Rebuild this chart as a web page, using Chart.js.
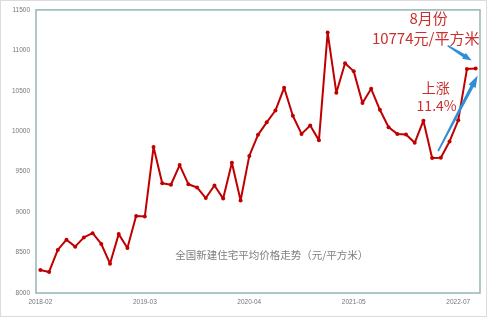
<!DOCTYPE html>
<html>
<head>
<meta charset="utf-8">
<script src="https://cdn.jsdelivr.net/npm/chart.js@4.4.0/dist/chart.umd.min.js"></script>
<style>
  html, body { margin: 0; padding: 0; background: #fff; }
</style>
</head>
<body>
<canvas id="myChart" width="500" height="319"></canvas>
<script>
// months along the x-axis (January is reported together with February)
var months = [
  "2018-02", "2018-03", "2018-04", "2018-05", "2018-06", "2018-07", "2018-08", "2018-09", "2018-10", "2018-11", "2018-12",
  "2019-02", "2019-03", "2019-04", "2019-05", "2019-06", "2019-07", "2019-08", "2019-09", "2019-10", "2019-11", "2019-12",
  "2020-02", "2020-03", "2020-04", "2020-05", "2020-06", "2020-07", "2020-08", "2020-09", "2020-10", "2020-11", "2020-12",
  "2021-02", "2021-03", "2021-04", "2021-05", "2021-06", "2021-07", "2021-08", "2021-09", "2021-10", "2021-11", "2021-12",
  "2022-03", "2022-04", "2022-05", "2022-06", "2022-07", "2022-08", "2022-09"
];
// average price of new homes, yuan per square metre
var price = [
  8285, 8260, 8533, 8659, 8573, 8687, 8740, 8606, 8362, 8728, 8557,
  8951, 8945, 9805, 9357, 9338, 9582, 9345, 9305, 9174, 9329, 9167,
  9610, 9143, 9695, 9955, 10110, 10256, 10537, 10191, 9967, 10070, 9887,
  11220, 10476, 10841, 10740, 10348, 10524, 10265, 10049, 9967, 9960, 9857,
  10130, 9668, 9671, 9874, 10135, 10768, 10774
];
var yMin = 8000, yMax = 11500, yStep = 500;
var labelEvery = 12;

var title = "全国新建住宅平均价格走势（元/平方米）";
var noteTop = ["8月份", "10774元/平方米"];
var noteRise = ["上涨", "11.4%"];

var lineRed = "#c00000";
var noteRed = "#c9302c";
var arrowBlue = "#2e8fd8";
var frameColor = "#94b5b5";

function arrow(ctx, x1, y1, x2, y2, w, hl, hw) {
  var a = Math.atan2(y2 - y1, x2 - x1);
  var len = Math.hypot(x2 - x1, y2 - y1);
  ctx.save();
  ctx.translate(x1, y1);
  ctx.rotate(a);
  ctx.beginPath();
  ctx.moveTo(0, -w * 0.25);
  ctx.lineTo(len - hl, -w / 2);
  ctx.lineTo(len - hl, -hw / 2);
  ctx.lineTo(len, 0);
  ctx.lineTo(len - hl, hw / 2);
  ctx.lineTo(len - hl, w / 2);
  ctx.lineTo(0, w * 0.25);
  ctx.closePath();
  ctx.fill();
  ctx.restore();
}

var framePlugin = {
  id: "frame",
  beforeDraw: function (chart) {
    var ctx = chart.ctx;
    ctx.save();
    ctx.strokeStyle = "#dcdcdc";
    ctx.lineWidth = 1;
    ctx.strokeRect(0.5, 0.5, 486, 316);
    ctx.restore();
  },
  beforeDatasetsDraw: function (chart) {
    var a = chart.chartArea, ctx = chart.ctx;
    ctx.save();
    ctx.strokeStyle = frameColor;
    ctx.lineWidth = 1.5;
    ctx.strokeRect(a.left, a.top, a.right - a.left, a.bottom - a.top);
    ctx.restore();
  }
};

var notesPlugin = {
  id: "notes",
  afterDraw: function (chart) {
    var ctx = chart.ctx, xs = chart.scales.x, ys = chart.scales.y;
    var last = price.length - 1;
    var lx = xs.getPixelForValue(last), ly = ys.getPixelForValue(price[last]);
    var low = 45;
    var bx = xs.getPixelForValue(low), by = ys.getPixelForValue(price[low]);
    ctx.save();
    ctx.textAlign = "center";
    ctx.textBaseline = "middle";

    ctx.fillStyle = "#7f7f7f";
    ctx.font = '10.5px "Noto Sans CJK SC"';
    ctx.fillText(title, xs.getPixelForValue(26) + 5, ys.getPixelForValue(8470));

    ctx.fillStyle = noteRed;
    ctx.font = '15px "Noto Sans CJK SC"';
    ctx.fillText(noteTop[0], lx - 47, ly - 50);
    ctx.fillText(noteTop[1], lx - 50, ly - 30);
    ctx.font = '14px "Noto Sans CJK SC"';
    ctx.fillText(noteRise[0], lx - 40, ly + 19);
    ctx.fillText(noteRise[1], lx - 39, ly + 37);

    ctx.fillStyle = arrowBlue;
    arrow(ctx, lx - 28, ly - 23, lx - 4, ly - 8, 3.5, 9, 7);
    arrow(ctx, bx + 6, by - 7, lx + 2, ly + 7, 3.5, 12, 8);
    ctx.restore();
  }
};

var ctx = document.getElementById("myChart");
var myChart = new Chart(ctx, {
  type: "line",
  data: {
    labels: months,
    datasets: [{
      data: price,
      borderColor: lineRed,
      backgroundColor: lineRed,
      borderWidth: 2,
      borderJoinStyle: "round",
      borderCapStyle: "round",
      pointRadius: 2,
      pointBackgroundColor: lineRed,
      pointBorderWidth: 0,
      tension: 0,
      fill: false
    }]
  },
  options: {
    responsive: false,
    animation: false,
    devicePixelRatio: 1,
    layout: { padding: { top: 6, right: 20, left: 0, bottom: 0 } },
    plugins: { legend: { display: false }, tooltip: { enabled: false } },
    scales: {
      x: {
        offset: true,
        grid: { display: false, drawTicks: false },
        border: { display: false },
        ticks: {
          autoSkip: false,
          maxRotation: 0,
          padding: 5,
          color: "#767676",
          font: { size: 6.5, family: "Liberation Sans" },
          callback: function (val, i) {
            return i % labelEvery === 0 ? this.getLabelForValue(val) : null;
          }
        },
        afterFit: function (s) { s.height = 26; }
      },
      y: {
        min: yMin,
        max: yMax,
        grid: { display: false, drawTicks: false },
        border: { display: false },
        ticks: {
          stepSize: yStep,
          padding: 6,
          color: "#767676",
          font: { size: 6.5, family: "Liberation Sans" },
          callback: function (val) { return String(val); }
        },
        afterFit: function (s) { s.width = 36; }
      }
    }
  },
  plugins: [framePlugin, notesPlugin]
});
</script>
</body>
</html>
